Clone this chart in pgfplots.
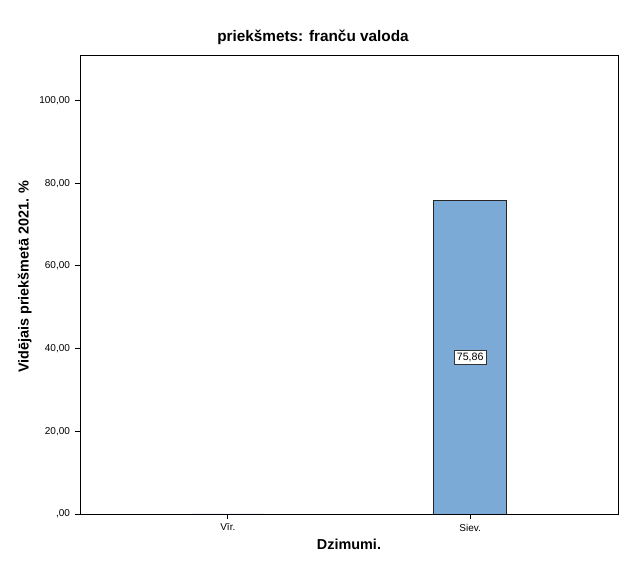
\documentclass[border=0pt]{standalone}
\usepackage{pgfplots}
\pgfplotsset{compat=1.18}
\usepackage{fontspec}
\setmainfont{Liberation Sans}
\definecolor{barblue}{RGB}{123,170,214}
\begin{document}
\begin{tikzpicture}
\useasboundingbox[fill=white] (-60pt,-49.5pt) rectangle (408.75pt,385.5pt);
\begin{axis}[
  scale only axis,
  width=403.5pt, height=344.25pt,
  at={(0,0)}, anchor=south west,
  xmin=0.39, xmax=2.61,
  ymin=0, ymax=111,
  xtick={1,2}, xticklabels={Vīr.,Siev.},
  ytick={0,20,40,60,80,100},
  yticklabels={{,00},{20,00},{40,00},{60,00},{80,00},{100,00}},
  tick align=outside,
  major tick length=4pt,
  xtick pos=bottom, ytick pos=left,
  tick style={black, line width=0.6pt},
  axis line style={black, line width=0.6pt},
  ticklabel style={font=\fontsize{7.5}{8}\selectfont},
  title={\bfseries priekšmets: franču valoda},
  title style={font=\fontsize{11.5}{13}\selectfont, yshift=-2pt, xshift=-27pt},
  xlabel={\bfseries Dzimumi.},
  ylabel={\bfseries Vidējais priekšmetā 2021. \%},
  label style={font=\fontsize{10.8}{12}\selectfont},
  xlabel style={yshift=1pt},
  ylabel style={yshift=-1pt, xshift=6pt},
  ybar, bar width=0.30,
]
\addplot[fill=barblue, draw=black!85, line width=0.6pt] coordinates {(1,0) (2,75.86)};
\node[draw=black!80, fill=white, inner sep=2pt, line width=0.5pt, font=\fontsize{8}{9}\selectfont] at (axis cs:2,37.93) {75,86};
\end{axis}
\end{tikzpicture}
\end{document}
